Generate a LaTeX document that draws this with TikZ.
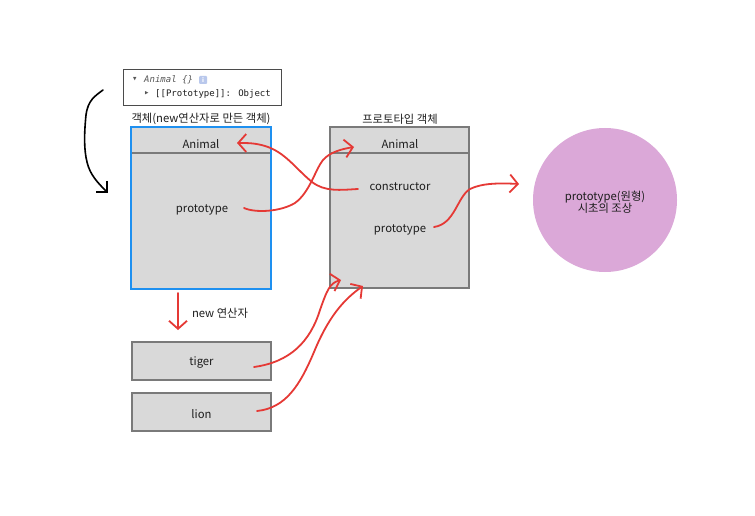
\documentclass[tikz,border=0pt]{standalone}
\usepackage{fontspec}
\setmainfont{Noto Sans CJK KR}
\newfontfamily\consolefont{DejaVu Sans Mono}
\usetikzlibrary{arrows.meta}
\definecolor{boxfill}{HTML}{D9D9D9}
\definecolor{boxline}{HTML}{7A7A7A}
\definecolor{selblue}{HTML}{1E90F0}
\definecolor{ink}{HTML}{E53935}
\definecolor{ancestor}{HTML}{DBA8D8}
\definecolor{txt}{HTML}{1E1E1E}
\definecolor{badge}{HTML}{B9C8EC}
\begin{document}
\begin{tikzpicture}[x=1pt,y=-1pt,
  objbox/.style={draw=boxline,line width=1.2pt,fill=boxfill,inner sep=0pt},
  label/.style={font=\fontsize{11.3}{13}\selectfont,text=txt,inner sep=0pt,yshift=-2pt},
  redline/.style={draw=ink,line width=1.8pt,line cap=round,line join=round,
    -{Straight Barb[length=8pt,width=18pt,line width=1.8pt]}},
  consoletext/.style={font=\consolefont\fontsize{9}{10}\selectfont,inner sep=0pt,anchor=west}]
\useasboundingbox (0,0) rectangle (755,516);

% console preview of the object
\node[draw=txt!80,line width=0.8pt,fill=white,minimum width=158pt,minimum height=36pt,inner sep=0pt] (console) at (202,87) {};
\node[consoletext,text=txt!75] (tri1) at (132,79.5) {\fontsize{9}{9}\selectfont▾};
\node[consoletext,text=txt!75] (objname) at (144,80) {\itshape Animal \{\}};
\node[fill=badge,rounded corners=1pt,minimum width=8pt,minimum height=8pt,inner sep=0pt,font=\fontsize{6}{6}\selectfont\bfseries,text=white] (badge) at (203,80) {i};
\node[consoletext,text=txt!75] (tri2) at (144,93.5) {\fontsize{9}{9}\selectfont▸};
\node[consoletext,text=txt] (protoline) at (155,94) {[[Prototype]]: Object};

% black bracket arrow beside the console
\coordinate (bstart) at (103,90);
\coordinate (bend) at (108,193);
\draw[line width=1.6pt,line cap=round,line join=round,-{Straight Barb[length=8pt,width=16pt,line width=1.6pt]}]
  (bstart) .. controls (95,96) and (88,100) .. (86,115) .. controls (84,135) and (84,150) .. (87,162)
  .. controls (90,175) and (98,183) .. (bend);

% constructor-made object
\node[label] (lefttitle) at (201,117) {객체(new연산자로 만든 객체)};
\node[objbox,draw=selblue,line width=2.4pt,minimum width=140pt,minimum height=162pt] (leftbox) at (201,208) {};
\draw[boxline,line width=1.2pt] (132.2,153) -- (269.8,153);
\node[label] (leftname) at (201,142) {Animal};
\node[label] (leftproto) at (202,208) {prototype};

% prototype object
\node[label] (righttitle) at (400,117) {프로토타입 객체};
\node[objbox,minimum width=139pt,minimum height=161pt] (rightbox) at (399.5,207.5) {};
\draw[boxline,line width=1.2pt] (330,153) -- (469,153);
\node[label] (rightname) at (400,142) {Animal};
\node[label] (cons) at (400,185) {constructor};
\node[label] (rightproto) at (400,228) {prototype};

% the common ancestor
\node[circle,fill=ancestor,minimum size=144pt,inner sep=0pt] (origin) at (605,200) {};
\node[label,align=center] (origintext) at (605,200) {prototype(원형)\\[-1pt]시초의 조상};

% instances
\node[objbox,minimum width=139pt,minimum height=38pt] (tiger) at (201.5,361) {};
\node[label] (tigertext) at (201.5,361) {tiger};
\node[objbox,minimum width=139pt,minimum height=38pt] (lion) at (201.5,412) {};
\node[label] (liontext) at (201.5,412) {lion};
\node[label] (newop) at (220,311) {new 연산자};

% end points of the hand-drawn links
\coordinate (downstart) at (178,293);
\coordinate (downend) at (178,330);
\coordinate (consfrom) at (358,189);
\coordinate (nameto) at (237,143);
\coordinate (protofrom) at (244,208);
\coordinate (rnameto) at (354,147);
\coordinate (rprotofrom) at (434,227);
\coordinate (originto) at (519,184);
\coordinate (tigerfrom) at (254,367);
\coordinate (tigerto) at (341,280);
\coordinate (lionfrom) at (257,411);
\coordinate (lionto) at (363,286);

% red hand-drawn connectors
\draw[redline] (downstart) -- (downend);

\draw[redline] (consfrom) .. controls (340,190) and (325,192) .. (312,182)
  .. controls (295,168) and (285,152) .. (265,146) .. controls (255,143) and (248,143) .. (nameto);

\draw[redline] (protofrom) .. controls (255,213) and (280,212) .. (295,203)
  .. controls (310,192) and (315,170) .. (323,160) .. controls (330,152) and (342,149) .. (rnameto);

\draw[redline] (rprotofrom) .. controls (455,224) and (457,197) .. (470,189)
  .. controls (482,183) and (500,183) .. (originto);

\draw[redline] (tigerfrom) .. controls (290,362) and (310,342) .. (320,310)
  .. controls (327,290) and (330,283) .. (tigerto);

\draw[redline] (lionfrom) .. controls (286,408) and (300,385) .. (314,352)
  .. controls (328,318) and (343,300) .. (lionto);
\end{tikzpicture}
\end{document}
